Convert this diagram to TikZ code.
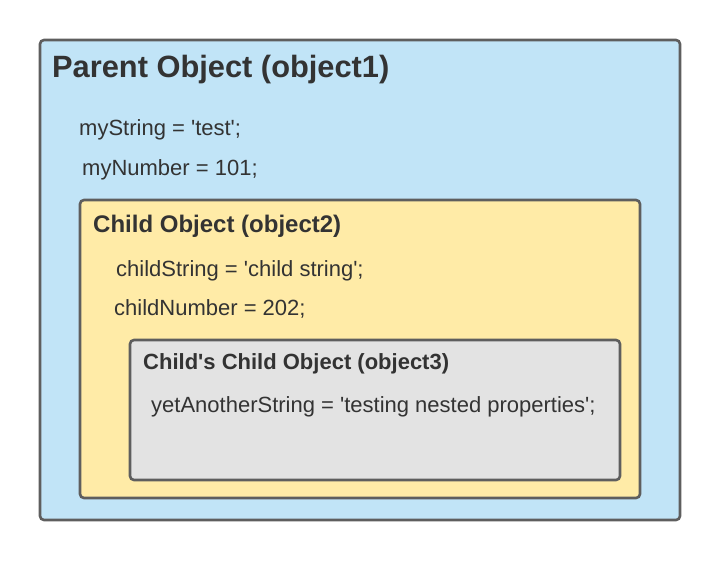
\documentclass[tikz,border=0pt]{standalone}
\usepackage{fontspec}
\setmainfont{Liberation Sans}
\definecolor{bordergray}{HTML}{5E5E5E}
\definecolor{blueFill}{HTML}{C1E4F7}
\definecolor{yellowFill}{HTML}{FFEBA7}
\definecolor{grayFill}{HTML}{E3E3E3}
\definecolor{txt}{HTML}{333333}
\newcommand{\q}{\textquotesingle}
\begin{document}
\begin{tikzpicture}[x=1pt,y=-1pt,
  objbox/.style={draw=bordergray,line width=2.6pt,rounded corners=4pt},
  lbl/.style={anchor=base west,inner sep=0pt,text=txt},
  title1/.style={lbl,font=\fontsize{30.8}{34}\selectfont\bfseries},
  title2/.style={lbl,font=\fontsize{24}{28}\selectfont\bfseries},
  title3/.style={lbl,font=\fontsize{22}{25}\selectfont\bfseries},
  prop/.style={lbl,font=\fontsize{22}{26}\selectfont}]
\useasboundingbox (0,0) rectangle (720,560);
\fill[white] (0,0) rectangle (720,560);
\draw[objbox,fill=blueFill] (40,40) rectangle (680,520);
\draw[objbox,fill=yellowFill] (80,200) rectangle (640,498);
\draw[objbox,fill=grayFill] (130,340) rectangle (620,480);
\node[title1] (t1) at (52,77) {Parent Object (object1)};
\node[prop] (p1) at (79,135) {myString = \q test\q;};
\node[prop] (p2) at (82,175) {myNumber = 101;};
\node[title2] (t2) at (93,232) {Child Object (object2)};
\node[prop] (p3) at (116,276) {childString = \q child string\q;};
\node[prop] (p4) at (114,315) {childNumber = 202;};
\node[title3] (t3) at (143,369) {Child\q s Child Object (object3)};
\node[prop] (p5) at (151,412) {yetAnotherString = \q testing nested properties\q;};
\end{tikzpicture}
\end{document}
